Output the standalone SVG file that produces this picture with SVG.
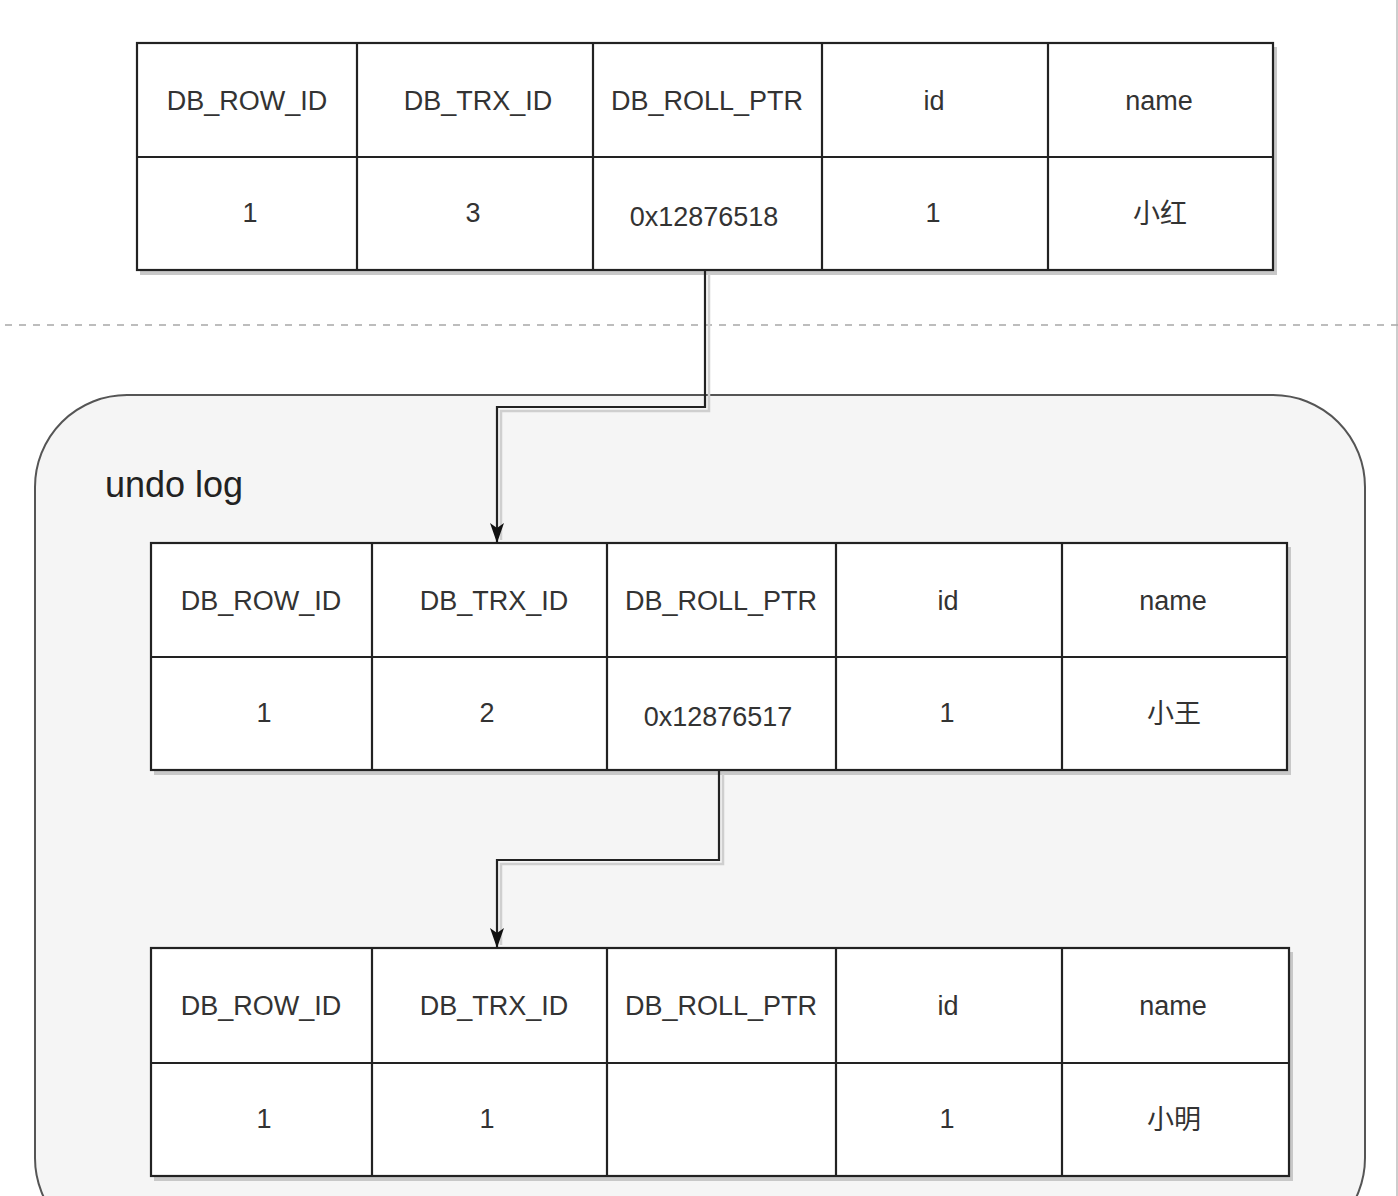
<svg xmlns="http://www.w3.org/2000/svg" width="1398" height="1196" viewBox="0 0 1398 1196">
<defs>
<style>
.cell{fill:#ffffff;stroke:#222;stroke-width:2.2}
.shadow{fill:#c8c8c8;stroke:none}
.grid{stroke:#222;stroke-width:2.2;fill:none}
.t{font-family:"Liberation Sans","Noto Sans CJK SC",sans-serif;font-size:27px;fill:#333;text-anchor:middle}
.lbl{font-family:"Liberation Sans","Noto Sans CJK SC",sans-serif;font-size:36px;fill:#222}
.conn{stroke:#222;stroke-width:2.2;fill:none}
.connsh{stroke:#cfcfcf;stroke-width:2.5;fill:none}
</style>
<marker id="arr" viewBox="0 0 20 14" refX="20" refY="7" markerWidth="20" markerHeight="14" markerUnits="userSpaceOnUse" orient="auto">
<path d="M0,0 L20,7 L0,14 L5,7 Z" fill="#111"/>
</marker>
</defs>
<rect width="1398" height="1196" fill="#ffffff"/>
<line x1="1397" y1="0" x2="1397" y2="1196" stroke="#bdbdbd" stroke-width="1.5"/>
<line x1="5" y1="325" x2="1398" y2="325" stroke="#a8a8a8" stroke-width="1.5" stroke-dasharray="7 7"/>

<g id="undo-log">
<rect x="35" y="395" width="1330" height="855" rx="92" ry="92" fill="#f5f5f5" stroke="#555" stroke-width="2"/>
<text class="lbl" x="105" y="497">undo log</text>
</g>

<g id="row-current">
<rect class="shadow" x="140" y="47" width="1137" height="228"/>
<rect class="cell" x="137" y="43" width="1136" height="227"/>
<path class="grid" d="M137,157 H1273 M357,43 V270 M593,43 V270 M822,43 V270 M1048,43 V270"/>
<text class="t" x="247" y="110">DB_ROW_ID</text>
<text class="t" x="478" y="110">DB_TRX_ID</text>
<text class="t" x="707" y="110">DB_ROLL_PTR</text>
<text class="t" x="934" y="110">id</text>
<text class="t" x="1159" y="110">name</text>
<text class="t" x="250" y="222">1</text>
<text class="t" x="473" y="222">3</text>
<text class="t" x="704" y="226">0x12876518</text>
<text class="t" x="933" y="222">1</text>
<text class="t" x="1160" y="223">小红</text>
</g>

<g id="row-undo-1">
<rect class="shadow" x="154" y="547" width="1137" height="228"/>
<rect class="cell" x="151" y="543" width="1136" height="227"/>
<path class="grid" d="M151,657 H1287 M372,543 V770 M607,543 V770 M836,543 V770 M1062,543 V770"/>
<text class="t" x="261" y="610">DB_ROW_ID</text>
<text class="t" x="494" y="610">DB_TRX_ID</text>
<text class="t" x="721" y="610">DB_ROLL_PTR</text>
<text class="t" x="948" y="610">id</text>
<text class="t" x="1173" y="610">name</text>
<text class="t" x="264" y="722">1</text>
<text class="t" x="487" y="722">2</text>
<text class="t" x="718" y="726">0x12876517</text>
<text class="t" x="947" y="722">1</text>
<text class="t" x="1174" y="723">小王</text>
</g>

<g id="row-undo-2">
<rect class="shadow" x="154" y="952" width="1139" height="229"/>
<rect class="cell" x="151" y="948" width="1138" height="228"/>
<path class="grid" d="M151,1063 H1289 M372,948 V1176 M607,948 V1176 M836,948 V1176 M1062,948 V1176"/>
<text class="t" x="261" y="1015">DB_ROW_ID</text>
<text class="t" x="494" y="1015">DB_TRX_ID</text>
<text class="t" x="721" y="1015">DB_ROLL_PTR</text>
<text class="t" x="948" y="1015">id</text>
<text class="t" x="1173" y="1015">name</text>
<text class="t" x="264" y="1128">1</text>
<text class="t" x="487" y="1128">1</text>
<text class="t" x="947" y="1128">1</text>
<text class="t" x="1174" y="1129">小明</text>
</g>

<g id="connectors">
<path class="connsh" d="M709,274 V411 H501 V540"/>
<path class="conn" d="M705,270 V407 H497 V543" marker-end="url(#arr)"/>
<path class="connsh" d="M723,774 V864 H501 V945"/>
<path class="conn" d="M719,770 V860 H497 V948" marker-end="url(#arr)"/>
</g>
</svg>
